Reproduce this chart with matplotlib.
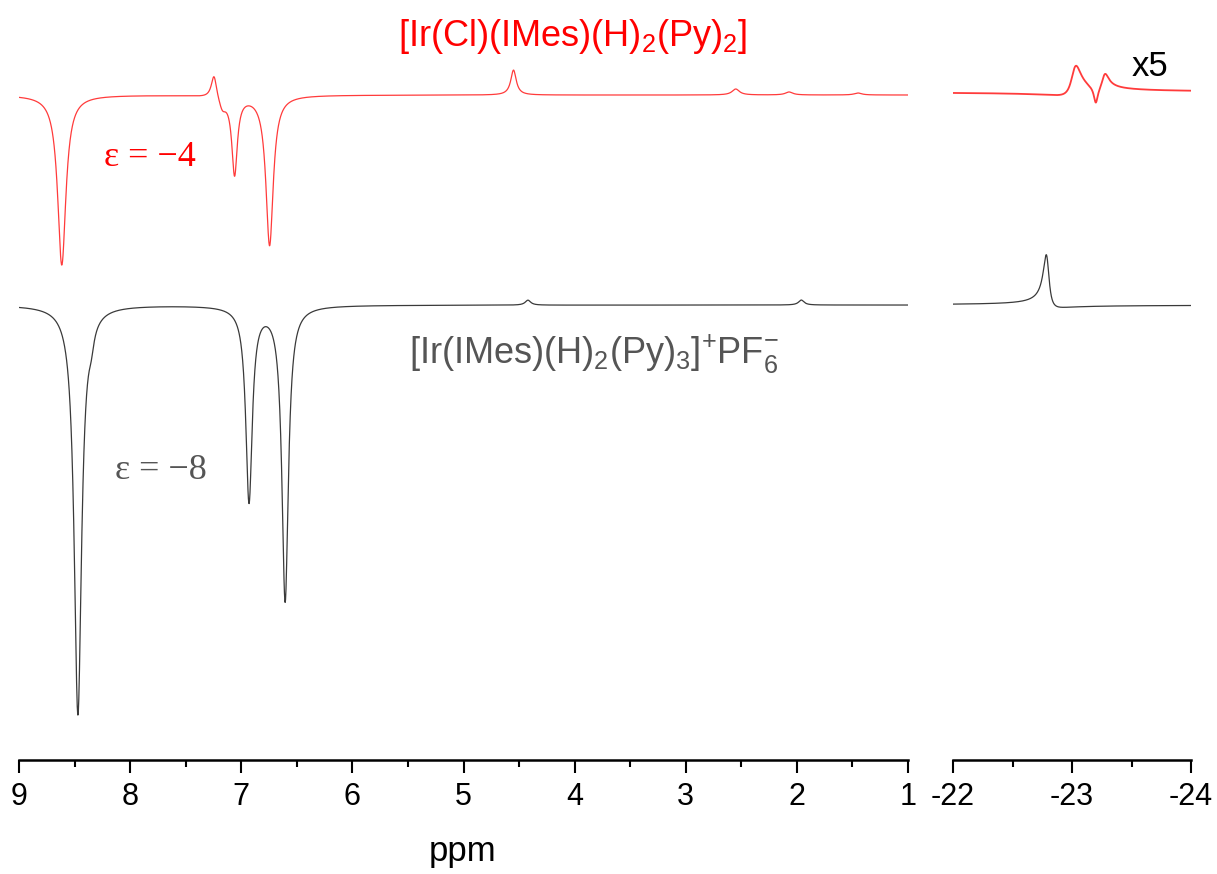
import numpy as np
import matplotlib.pyplot as plt
from matplotlib.ticker import MultipleLocator

plt.rcParams['font.family'] = ['Liberation Sans', 'DejaVu Sans']
plt.rcParams['mathtext.fontset'] = 'custom'
plt.rcParams['mathtext.rm'] = 'Liberation Sans'
plt.rcParams['mathtext.it'] = 'Liberation Sans:italic'
plt.rcParams['axes.unicode_minus'] = False

# peak tables: position (ppm), height, half width (ppm), dispersive fraction
red_low_pos = [8.615, 7.245, 7.17, 7.06, 6.745, 4.55, 2.55, 2.07, 1.45]
red_low_amp = [-170, 24, -12, -78, -150, 25, 6, 3, 2]
red_low_wid = [0.045, 0.03, 0.04, 0.03, 0.04, 0.03, 0.04, 0.04, 0.04]
red_low_mix = [0, 0, 0, 0, 0, 0, 0, 0, 0]

red_high_pos = [-23.02, -23.20, -23.27]
red_high_amp = [25, -16, 14]
red_high_wid = [0.05, 0.02, 0.035]
red_high_mix = [0.65, 0, 0.6]

blk_low_pos = [8.47, 8.35, 6.93, 6.605, 4.42, 1.96]
blk_low_amp = [-409, -15, -195, -295, 5, 5]
blk_low_wid = [0.04, 0.03, 0.035, 0.035, 0.03, 0.03]
blk_low_mix = [0, 0, 0, 0, 0, 0]

blk_high_pos = [-22.79]
blk_high_amp = [48]
blk_high_wid = [0.03]
blk_high_mix = [-0.45]

red_offset_low = 210
red_offset_high = 213
blk_offset = 0


def spectrum(x, pos, amp, wid, mix):
    y = np.zeros_like(x)
    for p, a, w, m in zip(pos, amp, wid, mix):
        d = p - x
        y += a * (w * w + m * w * d) / (d * d + w * w)
    return y


x_low = np.linspace(9.0, 1.0, 4000)
x_high = np.linspace(-22.0, -24.0, 2000)

fig = plt.figure(figsize=(12.17, 8.74), dpi=100)
ax1 = fig.add_axes([19 / 1217, 1 - 760 / 874, 889 / 1217, 760 / 874])
ax2 = fig.add_axes([953 / 1217, 1 - 760 / 874, 238 / 1217, 760 / 874])

red = '#ff3b3b'
grey = '#3a3a3a'

ax1.plot(x_low, red_offset_low + spectrum(x_low, red_low_pos, red_low_amp, red_low_wid, red_low_mix),
         color=red, lw=0.9)
ax1.plot(x_low, blk_offset + spectrum(x_low, blk_low_pos, blk_low_amp, blk_low_wid, blk_low_mix),
         color=grey, lw=0.9)
ax2.plot(x_high, red_offset_high + spectrum(x_high, red_high_pos, red_high_amp, red_high_wid, red_high_mix),
         color=red, lw=1.3)
ax2.plot(x_high, blk_offset + spectrum(x_high, blk_high_pos, blk_high_amp, blk_high_wid, blk_high_mix),
         color=grey, lw=0.9)

ax1.set_xlim(9, 1)
ax2.set_xlim(-22, -24)
for ax in (ax1, ax2):
    ax.set_ylim(-455, 305)
    for s in ('left', 'right', 'top'):
        ax.spines[s].set_visible(False)
    ax.spines['bottom'].set_linewidth(1.8)
    ax.set_yticks([])
    ax.xaxis.set_major_locator(MultipleLocator(1))
    ax.xaxis.set_minor_locator(MultipleLocator(0.5))
    ax.tick_params(axis='x', which='major', length=9.5, width=1.5, labelsize=22, pad=6)
    ax.tick_params(axis='x', which='minor', length=5, width=1.5)
    ax.patch.set_alpha(0)

fig.text(463 / 1217, 1 - 852 / 874, 'ppm', fontsize=25, ha='center', va='center')
fig.text(573 / 1217, 1 - 37 / 874, r'[Ir(Cl)(IMes)(H)$_2$(Py)$_2$]', fontsize=26,
         color='#ff0000', ha='center', va='center')
fig.text(594 / 1217, 1 - 354 / 874, r'[Ir(IMes)(H)$_2$(Py)$_3$]$^{+}$PF$_6^{-}$', fontsize=26,
         color='#555555', ha='center', va='center')
fig.text(150 / 1217, 1 - 158 / 874, 'ε = −4', fontsize=26, family='Liberation Serif',
         color='#ff0000', ha='center', va='center')
fig.text(161 / 1217, 1 - 470 / 874, 'ε = −8', fontsize=26, family='Liberation Serif',
         color='#555555', ha='center', va='center')
fig.text(1150 / 1217, 1 - 66 / 874, 'x5', fontsize=25, color='black', ha='center', va='center')

fig.savefig('out.png', dpi=100)
